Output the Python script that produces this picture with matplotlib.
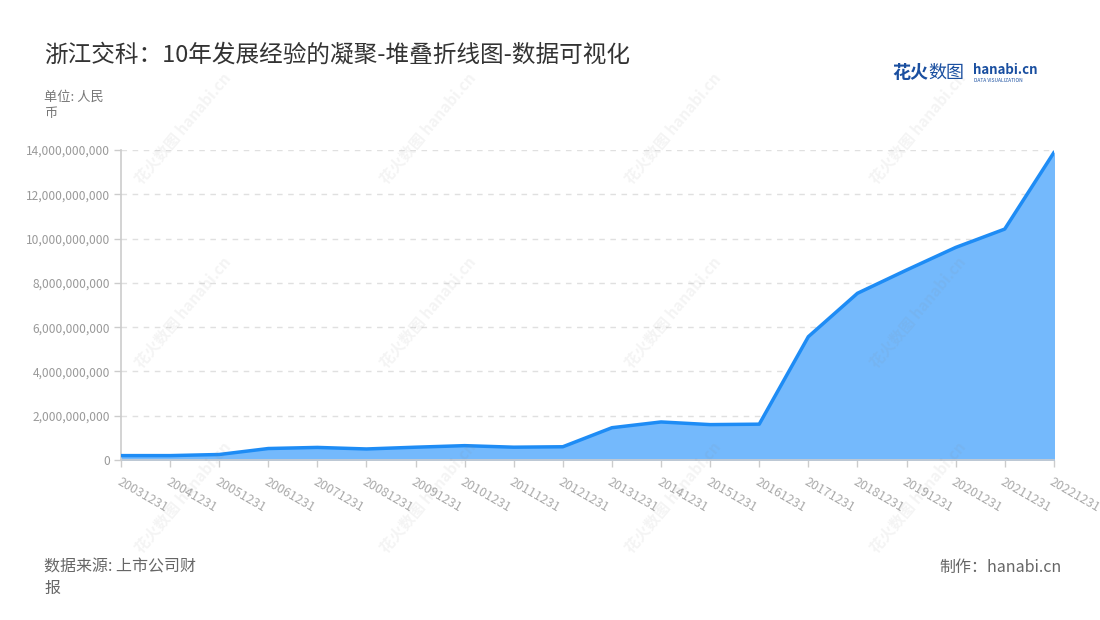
import numpy as np
import matplotlib
matplotlib.use("Agg")
import matplotlib.pyplot as plt
from matplotlib.ticker import FuncFormatter

plt.rcParams['font.family'] = ['Noto Sans CJK SC', 'DejaVu Sans']

dates = ["20031231", "20041231", "20051231", "20061231", "20071231",
         "20081231", "20091231", "20101231", "20111231", "20121231",
         "20131231", "20141231", "20151231", "20161231", "20171231",
         "20181231", "20191231", "20201231", "20211231", "20221231"]
revenue = [0.20e9, 0.20e9, 0.25e9, 0.52e9, 0.57e9,
           0.50e9, 0.58e9, 0.65e9, 0.58e9, 0.60e9,
           1.46e9, 1.72e9, 1.60e9, 1.62e9, 5.57e9,
           7.53e9, 8.58e9, 9.60e9, 10.43e9, 13.88e9]
y_ticks = [0, 2e9, 4e9, 6e9, 8e9, 10e9, 12e9, 14e9]

fig = plt.figure(figsize=(11, 6.2), dpi=100)
ax = fig.add_axes([0.11, 0.258, 0.848, 0.5])

x = np.arange(len(dates))
ax.fill_between(x, revenue, 0, color="#74b9fc", zorder=2)
ax.plot(x, revenue, color="#1e8cf5", lw=2.5, zorder=3, solid_joinstyle="round")

ax.set_xlim(0, len(dates) - 1)
ax.set_ylim(0, 14e9)
ax.set_yticks(y_ticks)
ax.yaxis.set_major_formatter(FuncFormatter(lambda v, p: f"{int(v):,}"))
ax.set_xticks(x)
ax.set_xticklabels(dates, rotation=-30, ha="left", va="top", rotation_mode="anchor")

ax.grid(axis="y", color="#e0e0e0", linestyle=(0, (4, 4)), lw=1, zorder=1)
for s in ["top", "right"]:
    ax.spines[s].set_visible(False)
for s in ["left", "bottom"]:
    ax.spines[s].set_color("#cccccc")
    ax.spines[s].set_linewidth(1.2)
ax.tick_params(axis="both", colors="#cccccc", length=5, width=1)
ax.tick_params(axis="y", labelcolor="#999999", labelsize=8.6, pad=3)
ax.tick_params(axis="x", labelcolor="#aaaaaa", labelsize=9, pad=6)

# title and notes
fig.text(44 / 1100, 1 - 55 / 620, "浙江交科：10年发展经验的凝聚-堆叠折线图-数据可视化",
         fontsize=17, color="#333333", va="center")
fig.text(44 / 1100, 1 - 105 / 620, "单位: 人民\n币", fontsize=9.5, color="#777777",
         va="center", linespacing=1.3)
fig.text(44 / 1100, 1 - 578 / 620, "数据来源: 上市公司财\n报", fontsize=11.5, color="#666666",
         va="center", linespacing=1.35)
fig.text(1062 / 1100, 1 - 567 / 620, "制作：hanabi.cn", fontsize=11.5, color="#666666",
         va="center", ha="right")

# logo
fig.text(892 / 1100, 1 - 73 / 620, "花火", fontsize=13, color="#1a4fa0",
         fontweight="bold", va="center")
fig.text(928 / 1100, 1 - 73 / 620, "数图", fontsize=13, color="#1a4fa0", va="center")
fig.text(973 / 1100, 1 - 70 / 620, "hanabi.cn", fontsize=9.5, color="#1a4fa0",
         fontweight="bold", va="center")
fig.text(974 / 1100, 1 - 80 / 620, "DATA VISUALIZATION", fontsize=3.5, color="#1a4fa0",
         va="center")

# watermarks
for cx in [183, 428, 673, 918]:
    for cy in [128, 312, 497]:
        fig.text(cx / 1100, 1 - cy / 620, "花火数图 hanabi.cn", fontsize=11,
                 color="#888888", alpha=0.09, rotation=50, ha="center", va="center",
                 fontweight="bold", zorder=10)

fig.savefig("out.png", dpi=100)
